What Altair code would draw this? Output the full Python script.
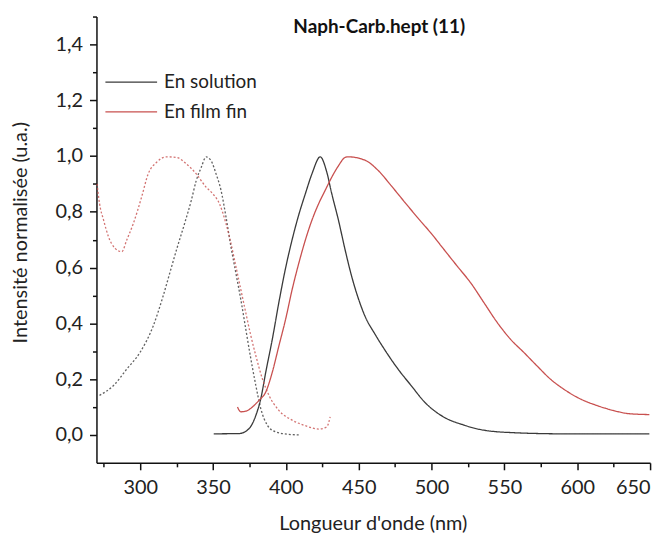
import altair as alt
import pandas as pd

# ---- data ----
abs_sol_nm = [272.1, 281.7, 290.8, 299.9, 308.9, 315.7, 320.3, 324.9, 330.5, 335.1, 338.5, 341.9,
              345.3, 348.7, 352.1, 355.5, 358.9, 362.3, 365.7, 369.1, 372.5, 376.0, 379.4, 382.8,
              387.3, 393.0, 402.0, 410.0]
abs_sol_val = [0.142, 0.177, 0.236, 0.296, 0.390, 0.497, 0.580, 0.663, 0.758, 0.841, 0.912, 0.959,
               0.997, 0.983, 0.936, 0.877, 0.782, 0.675, 0.580, 0.485, 0.379, 0.272, 0.177, 0.094,
               0.035, 0.011, 0.002, 0.000]

em_sol_nm = [350.5, 368.0, 374.8, 379.4, 382.8, 386.2, 390.7, 395.2, 399.8, 404.3, 408.9, 413.4,
             417.9, 423.6, 428.1, 431.5, 436.1, 440.7, 445.2, 449.7, 454.3, 461.1, 467.9, 477.0,
             486.0, 495.2, 506.5, 522.4, 536.0, 556.5, 590.5, 649.5]
em_sol_val = [0.004, 0.005, 0.023, 0.070, 0.130, 0.225, 0.343, 0.475, 0.598, 0.700, 0.790, 0.865,
              0.936, 0.997, 0.942, 0.865, 0.770, 0.663, 0.568, 0.490, 0.426, 0.362, 0.305, 0.236,
              0.177, 0.118, 0.070, 0.035, 0.017, 0.008, 0.004, 0.004]

abs_film_nm = [270.4, 272.1, 274.9, 278.3, 282.8, 287.4, 290.8, 295.3, 301.0, 305.5, 311.2, 318.0,
               324.9, 331.7, 338.5, 345.3, 349.8, 354.4, 358.9, 362.3, 365.7, 369.1, 372.5, 376.0,
               379.4, 383.9, 388.4, 395.2, 404.3, 413.4, 422.5, 428.1, 430.4]
abs_film_val = [0.900, 0.830, 0.770, 0.710, 0.669, 0.657, 0.699, 0.758, 0.853, 0.936, 0.977, 0.997,
                0.995, 0.972, 0.936, 0.888, 0.865, 0.829, 0.758, 0.687, 0.604, 0.521, 0.438, 0.355,
                0.284, 0.201, 0.142, 0.088, 0.053, 0.033, 0.021, 0.029, 0.065]

em_film_nm = [366.8, 369.1, 372.5, 377.0, 381.6, 386.2, 390.7, 395.2, 399.8, 404.3, 408.9, 413.4,
              417.9, 422.5, 427.0, 431.5, 436.1, 440.7, 442.9, 454.3, 463.4, 472.4, 481.5, 490.6,
              499.7, 508.8, 517.8, 526.9, 536.0, 545.1, 554.2, 563.3, 572.3, 581.4, 590.5, 601.8,
              613.2, 624.6, 635.9, 649.5]
em_film_val = [0.100, 0.083, 0.085, 0.100, 0.124, 0.154, 0.225, 0.319, 0.414, 0.521, 0.616, 0.699,
               0.770, 0.829, 0.877, 0.924, 0.965, 0.995, 0.997, 0.985, 0.948, 0.893, 0.835, 0.778,
               0.723, 0.663, 0.604, 0.545, 0.474, 0.403, 0.343, 0.296, 0.248, 0.201, 0.165, 0.130,
               0.106, 0.088, 0.076, 0.073]

samples = ["En solution", "En film fin"]
kinds = ["Absorption", "Émission"]
colors = ["#3a3a3a", "#c8504f"]
x_major = [300, 350, 400, 450, 500, 550, 600, 650]
x_minor = [275, 325, 375, 425, 475, 525, 575, 625]
y_major = [0.0, 0.2, 0.4, 0.6, 0.8, 1.0, 1.2, 1.4]
y_minor = [0.1, 0.3, 0.5, 0.7, 0.9, 1.1, 1.3, 1.5]

rows = []
for nm, val, s, k in [(abs_sol_nm, abs_sol_val, samples[0], kinds[0]),
                      (em_sol_nm, em_sol_val, samples[0], kinds[1]),
                      (abs_film_nm, abs_film_val, samples[1], kinds[0]),
                      (em_film_nm, em_film_val, samples[1], kinds[1])]:
    for i, (a, b) in enumerate(zip(nm, val)):
        rows.append({"nm": a, "v": b, "sample": s, "kind": k, "curve": s + k, "order": i})
df = pd.DataFrame(rows)

FONT = "Lato"
x_scale = alt.Scale(domain=[270, 650], nice=False, zero=False)
y_scale = alt.Scale(domain=[-0.1, 1.5], nice=False, zero=False)
comma = "replace(format(datum.value, '.1f'), '.', ',')"

main = alt.Chart(df).mark_line(strokeWidth=1.3, interpolate="monotone").encode(
    x=alt.X("nm:Q", scale=x_scale,
            axis=alt.Axis(values=x_major, orient="bottom", title="Longueur d'onde (nm)",
                          format="d", tickSize=7, labelPadding=8,
                          titleBaseline="alphabetic", titleY=67, titleX=278)),
    y=alt.Y("v:Q", scale=y_scale,
            axis=alt.Axis(values=y_major, orient="left", title="Intensité normalisée (u.a.)",
                          labelExpr=comma, tickSize=7, labelPadding=7,
                          titleBaseline="alphabetic", titleX=-70, titleY=217, titleAngle=-90)),
    color=alt.Color("sample:N", scale=alt.Scale(domain=samples, range=colors),
                    legend=alt.Legend(title=None, orient="none", legendX=40, legendY=55,
                                      symbolType="M-4.2,0H1", symbolSize=400,
                                      symbolStrokeWidth=1.3, symbolFillColor="transparent",
                                      labelFont=FONT, labelFontSize=19, labelColor="#222222",
                                      labelOffset=6, rowPadding=9, padding=0)),
    strokeDash=alt.StrokeDash("kind:N", scale=alt.Scale(domain=kinds, range=[[2, 2], [1, 0]]),
                              legend=None),
    opacity=alt.Opacity("kind:N", scale=alt.Scale(domain=kinds, range=[0.8, 1.0]), legend=None),
    detail="curve:N",
    order="order:Q",
)

minor = alt.Chart(df).mark_line(strokeOpacity=0).encode(
    x=alt.X("nm:Q", scale=x_scale,
            axis=alt.Axis(values=x_minor, orient="bottom", labels=False, title=None,
                          tickSize=4, domain=False)),
    y=alt.Y("v:Q", scale=y_scale,
            axis=alt.Axis(values=y_minor, orient="left", labels=False, title=None,
                          tickSize=4, domain=False)),
    detail="curve:N",
    order="order:Q",
)

chart = alt.layer(main, minor).resolve_axis(x="independent", y="independent").properties(
    width=557, height=449,
    autosize=alt.AutoSizeParams(type="none"),
    padding={"left": 89, "top": 7, "right": 14, "bottom": 70},
    title=alt.TitleParams("Naph-Carb.hept (11)", font=FONT, fontSize=19, fontWeight="bold",
                          color="#111111", anchor="middle", frame="group", offset=0,
                          baseline="alphabetic", dx=6, dy=36),
).configure_view(stroke=None).configure_axis(
    grid=False, domainColor="#111111", domainWidth=1.5, tickColor="#111111", tickWidth=1.5,
    labelFont=FONT, labelFontSize=20, labelColor="#222222",
    titleFont=FONT, titleFontSize=20, titleFontWeight="normal", titleColor="#222222",
)

chart.save("out.html", embed_options={"renderer": "svg", "actions": False})
